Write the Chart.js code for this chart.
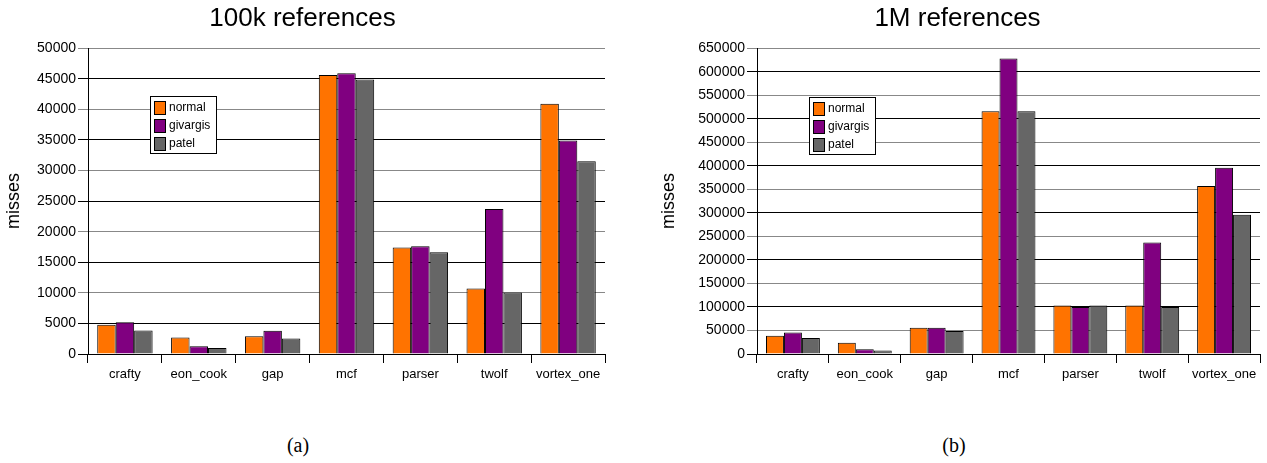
<!DOCTYPE html>
<html>
<head>
<meta charset="utf-8">
<script src="https://cdn.jsdelivr.net/npm/chart.js@4.4.0/dist/chart.umd.min.js"></script>
<style>
  body { margin: 0; background: #fff; width: 1267px; height: 463px; position: relative; overflow: hidden; }
  .box { position: absolute; top: 0; }
  .cap { position: absolute; top: 434px; font: 20px "Liberation Serif", "DejaVu Serif", serif; transform: translateX(-50%); }
</style>
</head>
<body>
<div class="box" style="left:0"><canvas id="c1" width="612" height="400"></canvas></div>
<div class="box" style="left:655px"><canvas id="c2" width="612" height="400"></canvas></div>
<div class="cap" style="left:298px">(a)</div>
<div class="cap" style="left:954px">(b)</div>
<script>
const benchmarks = ["crafty", "eon_cook", "gap", "mcf", "parser", "twolf", "vortex_one"];
const seriesNames = ["normal", "givargis", "patel"];
const seriesColors = ["#ff7300", "#800080", "#666666"];

// 100k references
const normal100k = [4800, 2700, 2900, 45600, 17400, 10700, 40900];
const givargis100k = [5200, 1250, 3800, 45900, 17600, 23700, 34900];
const patel100k = [3850, 1000, 2550, 44900, 16650, 10050, 31500];

// 1M references
const normal1M = [39000, 24000, 56000, 516000, 103000, 103000, 357000];
const givargis1M = [45500, 10000, 56000, 628000, 100000, 237000, 396000];
const patel1M = [34000, 7500, 49000, 516000, 103000, 100000, 296000];

const fontFam = '"Liberation Sans", Arial, sans-serif';
Chart.defaults.font.family = fontFam;
Chart.defaults.color = "#000";

// legend box drawn inside the plot area
const boxLegend = {
  id: "boxLegend",
  afterDatasetsDraw(chart, args, opts) {
    const c = chart.ctx;
    const a = chart.chartArea;
    const x = Math.round(a.left + opts.dx);
    const y = Math.round(a.top + opts.dy);
    c.save();
    c.fillStyle = "#fff";
    c.strokeStyle = "#000";
    c.lineWidth = 1;
    c.fillRect(x, y, 66, 57);
    c.strokeRect(x + 0.5, y + 0.5, 66, 57);
    c.font = "12px " + fontFam;
    c.textBaseline = "middle";
    chart.data.datasets.forEach((ds, i) => {
      const ry = y + 5 + i * 18;
      c.fillStyle = ds.backgroundColor;
      c.fillRect(x + 4, ry, 11, 13);
      c.strokeRect(x + 4.5, ry + 0.5, 11, 13);
      c.fillStyle = "#000";
      c.fillText(ds.label, x + 19, ry + 7);
    });
    c.restore();
  },
};

function makeChart(id, title, values, max, step, axisW, grayOdd, legendPos) {
  return new Chart(document.getElementById(id), {
    type: "bar",
    data: {
      labels: benchmarks,
      datasets: values.map((v, i) => ({
        label: seriesNames[i],
        data: v,
        backgroundColor: seriesColors[i],
        borderColor: "#000",
        borderWidth: 1,
        inflateAmount: 0,
        categoryPercentage: 0.75,
        barPercentage: 1,
      })),
    },
    options: {
      responsive: false,
      animation: false,
      devicePixelRatio: 1,
      layout: { padding: { right: 7, bottom: 0 } },
      plugins: {
        legend: { display: false },
        tooltip: { enabled: false },
        title: {
          display: true,
          text: title,
          color: "#000",
          font: { size: 26, weight: "normal" },
          padding: { top: 3, bottom: 14 },
        },
        boxLegend: legendPos,
      },
      scales: {
        x: {
          grid: { offset: true, drawOnChartArea: false, tickLength: 9, color: "#000" },
          border: { color: "#000" },
          ticks: { color: "#000", font: { size: 13 }, padding: 4, maxRotation: 0, autoSkip: false },
          afterFit(s) { s.height = 46; },
        },
        y: {
          min: 0,
          max: max,
          ticks: { stepSize: step, color: "#000", font: { size: 14 }, padding: 2, callback: (v) => String(v) },
          grid: {
            tickLength: 10,
            color: (ctx) => {
              const i = ctx.index;
              if (i === 0) return "#000";
              return (i % 2 === 1) === grayOdd ? "#888" : "#000";
            },
          },
          border: { color: "#000" },
          title: { display: true, text: "misses", color: "#000", font: { size: 18 }, padding: { top: 3, bottom: 0 } },
          afterFit(s) { s.width = axisW; },
        },
      },
    },
    plugins: [boxLegend],
  });
}

makeChart("c1", "100k references", [normal100k, givargis100k, patel100k], 50000, 5000, 88, false, { dx: 62, dy: 48 });
makeChart("c2", "1M references", [normal1M, givargis1M, patel1M], 650000, 50000, 102, true, { dx: 52, dy: 49 });
</script>
</body>
</html>
